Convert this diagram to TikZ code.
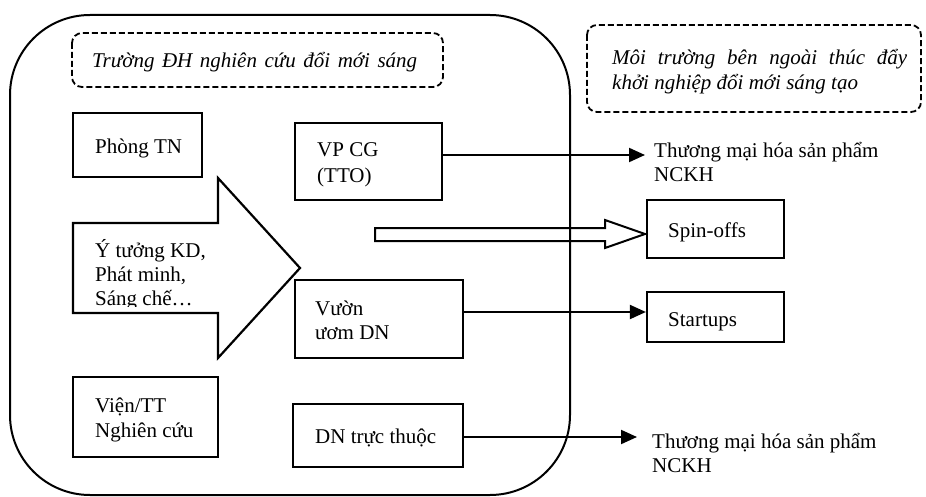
\documentclass[tikz,border=0pt]{standalone}
\usepackage{fontspec}
\setmainfont{Liberation Serif}
\usetikzlibrary{arrows.meta}
\begin{document}
\begin{tikzpicture}[x=1pt,y=-1pt,
  box/.style={draw,line width=2.2pt,inner sep=0pt},
  txt/.style={inner sep=0pt,anchor=base west,font=\fontsize{21}{26}\selectfont},
  itxt/.style={txt,font=\fontsize{21}{26}\selectfont\itshape},
  conn/.style={line width=2pt,-{Triangle[length=16pt,width=14pt]}},
  dbox/.style={draw,line width=1.8pt,dash pattern=on 6pt off 3pt,rounded corners=10pt}]
\useasboundingbox (0,0) rectangle (926,497);
% outer university frame
\draw[line width=2pt,rounded corners=80pt] (10,15) rectangle (570,495);
% dashed label boxes
\draw[dbox] (72,33) rectangle (443,87);
\node[itxt] (truong) at (92,68) {\makebox[325pt][s]{Trường ĐH nghiên cứu đổi mới sáng}};
\draw[dbox] (587,25) rectangle (921,112);
\node[itxt] (moi1) at (612,65) {\makebox[295pt][s]{Môi trường bên ngoài thúc đẩy}};
\node[itxt] (moi2) at (612,90) {khởi nghiệp đổi mới sáng tạo};
% boxes
\node[box,minimum width=129pt,minimum height=64pt] (phong) at (137.5,145) {};
\node[box,minimum width=147pt,minimum height=77pt] (vp) at (368.5,161.5) {};
\node[box,minimum width=168pt,minimum height=78pt] (vuon) at (379,319) {};
\node[box,minimum width=145pt,minimum height=80pt] (vien) at (145.5,417) {};
\node[box,minimum width=170pt,minimum height=63pt] (dntt) at (378,435.5) {};
\node[box,minimum width=137pt,minimum height=58pt] (spin) at (715.5,229) {};
\node[box,minimum width=137pt,minimum height=50pt] (start) at (715.5,317) {};
% big block arrow
\draw[line width=2.2pt,line join=miter] (73,223) -- (218,223) -- (218,178) -- (300,268) -- (218,358) -- (218,313) -- (73,313) -- cycle;
% hollow arrow to spin-offs
\draw[line width=2pt,line join=miter] (375,228) -- (605,228) -- (605,220) -- (645,234) -- (605,248) -- (605,241) -- (375,241) -- cycle;
% connectors
\coordinate (t1) at (645,155);
\draw[conn] (vp.east |- t1) -- (t1);
\coordinate (a2) at (647,312);
\draw[conn] (vuon.east |- a2) -- (start.west |- a2);
\coordinate (t3) at (637,437);
\draw[conn] (dntt.east |- t3) -- (t3);
% texts
\node[txt] (phongt) at (95,154) {Phòng TN};
\node[txt] (vpt1) at (317,157) {VP CG};
\node[txt] (vpt2) at (317,183) {(TTO)};
\node[txt] (tm1) at (654,158) {Thương mại hóa sản phẩm};
\node[txt] (tm2) at (654,182) {NCKH};
\node[txt] (spint) at (668,237) {Spin-offs};
\node[txt] (yt1) at (95,257) {Ý tưởng KD,};
\node[txt] (yt2) at (95,281) {Phát minh,};
\begin{scope}
\clip (73,284) rectangle (300,306);
\node[txt] (yt3) at (95,305) {Sáng chế…};
\end{scope}
\node[txt] (vuont1) at (315,315) {Vườn};
\node[txt] (vuont2) at (315,339) {ươm DN};
\node[txt] (startt) at (668,326) {Startups};
\node[txt] (vient1) at (95,412) {Viện/TT};
\node[txt] (vient2) at (95,437) {Nghiên cứu};
\node[txt] (dnttt) at (315,443) {DN trực thuộc};
\node[txt] (tm3) at (652,448) {Thương mại hóa sản phẩm};
\node[txt] (tm4) at (652,472) {NCKH};
\end{tikzpicture}
\end{document}
